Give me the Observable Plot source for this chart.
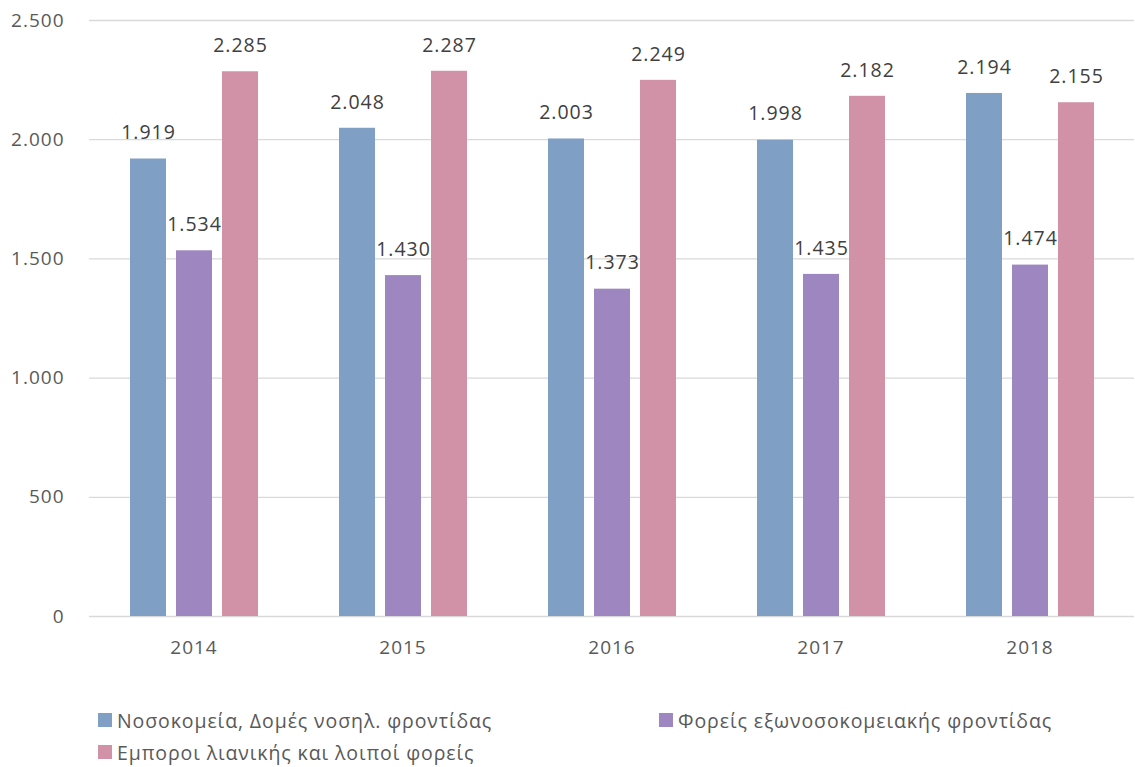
<!DOCTYPE html>
<html>
<head>
<meta charset="utf-8">
<script src="https://cdn.jsdelivr.net/npm/d3@7"></script>
<script src="https://cdn.jsdelivr.net/npm/@observablehq/plot@0.6"></script>
<style>
  html, body { margin: 0; padding: 0; background: #fff; overflow: hidden; }
  #chart { position: absolute; left: 0; top: 0; }
  .leg { position: absolute; display: flex; align-items: center; font-family: "Open Sans", sans-serif; font-size: 19.5px; letter-spacing: 0.9px; color: #595959; white-space: nowrap; }
  .sw { width: 14px; height: 14px; margin-right: 5px; display: inline-block; }
</style>
</head>
<body>
<div id="chart"></div>
<div id="legend"></div>
<script>
const years = ["2014", "2015", "2016", "2017", "2018"];
const series = ["Νοσοκομεία, Δομές νοσηλ. φροντίδας", "Φορείς εξωνοσοκομειακής φροντίδας", "Εμποροι λιανικής και λοιποί φορείς"];
const hospitals = [1919, 2048, 2003, 1998, 2194];
const outpatient = [1534, 1430, 1373, 1435, 1474];
const retail = [2285, 2287, 2249, 2182, 2155];
const yTicks = [0, 500, 1000, 1500, 2000, 2500];
const colors = ["#7f9fc4", "#9e87c1", "#d191a6"];

const valuesBySeries = [hospitals, outpatient, retail];
const data = [];
years.forEach((yr, i) => {
  series.forEach((s, j) => data.push({year: yr, series: s, value: valuesBySeries[j][i]}));
});

const fmt = d => d3.format(",")(d).replace(/,/g, ".");

const plot = Plot.plot({
  width: 1135,
  height: 680,
  marginLeft: 88,
  marginRight: 0,
  marginTop: 20,
  marginBottom: 64,
  style: {fontFamily: "Open Sans, sans-serif", fontSize: "19px", letterSpacing: "1px", color: "#595959", background: "#fff"},
  fx: {domain: years, padding: 0, label: null, tickSize: 0, tickPadding: 24},
  x: {domain: series, paddingInner: 0.218, paddingOuter: 0.851, axis: null},
  y: {domain: [0, 2500], ticks: yTicks, tickFormat: fmt, tickSize: 0, tickPadding: 25, label: null},
  color: {domain: series, range: colors},
  marks: [
    Plot.ruleY(yTicks, {stroke: "#d9d9d9", strokeWidth: 1.3, strokeOpacity: 1}),
    Plot.barY(data, {fx: "year", x: "series", y: "value", fill: "series"}),
    Plot.text(data, {fx: "year", x: "series", y: "value", text: d => fmt(d.value), dy: -26, fontSize: 19.5, fill: "#404040"})
  ]
});
document.getElementById("chart").appendChild(plot);

const legPos = [[98, 720], [659, 720], [98, 752]];
const legend = document.getElementById("legend");
series.forEach((s, j) => {
  const el = document.createElement("div");
  el.className = "leg";
  el.style.left = legPos[j][0] + "px";
  el.style.top = (legPos[j][1] - 14) + "px";
  el.style.height = "28px";
  el.innerHTML = `<span class="sw" style="background:${colors[j]}"></span><span>${s}</span>`;
  legend.appendChild(el);
});
</script>
</body>
</html>
